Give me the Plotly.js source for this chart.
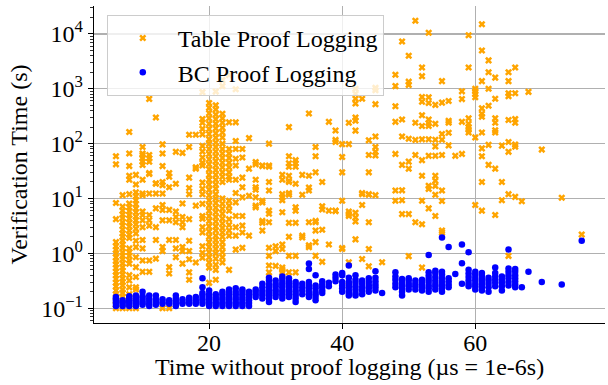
<!DOCTYPE html>
<html><head><meta charset="utf-8">
<script src="https://cdn.plot.ly/plotly-3.0.1.min.js"></script>
<style>html,body{margin:0;padding:0;background:#fff}</style>
</head><body><div id="chart" style="width:608px;height:385px"></div>
<script>
// Time without proof logging (µs) for each column of points
const tableXs = [6,7,8,9,10,11,12,13,14,15,16,17,18,19,20,21,22,23,24,25,26,27,28,29,30,31,32,33,34,35,36,37,38,39,40,41,42,43,44,45,46,48,49,50,51,52,53,54,55,56,57,58,59,60,61,62,63,64,65,66,67,68,70,73,76];
// Verification time (s) with table proof logging, one list per column
const tableYs = [
  [59,42,8.3,4.2,1.6,1.35,1.15,1.0,0.85,0.72,0.63,0.54,0.46,0.4,0.34,0.29,0.25,0.21,0.18,0.16,0.135,0.115,0.1],
  [11.5,7.1,6.0,5.1,4.4,3.7,3.2,2.7,2.3,2.0,1.7,1.45,1.25,1.05,0.9,0.78,0.66,0.56,0.48,0.41,0.35,0.3,0.26,0.22,0.19,0.16,0.14,0.12,0.1],
  [163,66,39,26,22,12,8.1,6.9,5.9,5.0,4.3,3.6,3.1,2.6,2.2,1.9,1.23,1.05,0.9,0.75,0.65,0.4,0.32,0.24,0.18,0.16,0.1],
  [27,18,13,11,9.3,7.9,6.6,5.6,4.7,4.0,3.4,2.8,2.3,1.7,1.3,0.85,0.56,0.37,0.24,0.22,0.1],
  [87,66,62,54,47,41,22,12.3,11.5,5.8,5.0,4.0,3.0,1.75,1.23,0.74,0.46],
  [655,62,54,47,29,28,12.3,5.0,4.0,3.2,0.74,0.46],
  [300,19,18.6,12.3,6.6,3.0,1.75,0.8],
  [97,66,39,20,17.4,12.3,7.6,6.2,4.0,1.3,1.1,0.1],
  [29,25,16,6.2,4.0,1.75,0.56,0.43,0.1],
  [71,18.6,5.8,4.6,3.7,1.75,1.23,0.85],
  [68,8.1,4.6,3.7,3.0,1.3,1.1,0.65],
  [145,87,24,15.5,12,4.2,1.7,1.1,0.78,0.45,0.33],
  [145,37,35,7.4,0.68],
  [870,282,240,186,148,91,72,56,45,40,19.5,15,12,8,4.8,4.3,3.0,2.4,1.35,1.02,0.83],
  [550,450,360,290,230,185,150,120,100,80,65,52,42,34,27,22,18,14.5,11.5,9.3,7.5,6.0,4.8,3.9,3.1,2.5,2.0,1.6,1.3,1.05,0.85,0.68,0.55,0.29],
  [890,500,420,340,280,230,190,155,128,105,87,72,59,48,40,33,27,22,18,15,12,10,8.3,6.8,5.6,4.6,3.8,3.1,2.6,2.1,1.75,1.45,1.2,1.0,0.8,0.62,0.5,0.33],
  [1440,1120,350,290,240,195,160,130,100,80,66,55,45,37,30,25,20,10,8,6.5,5.3,4.3,3.5,2.9,2.4,2.0,1.6,1.3,1.05,0.85,0.68],
  [1780,245,80,66,55,45,37,30,25,22,9.1,7.4,6.0,4.2,3.3,2.6,2.1,0.5],
  [980,245,112,80,53,40,22,12.6,8.5,4.8,3.0,2.1,1.17],
  [80,56,24,16,10.5,4.8,3.2,2.4,1.26],
  [126,35,11.2,2.1],
  [46,42,22,16,14.5,10.5,7.4,6.9],
  [40,39,9.1,8.5,3.9,3.6,2.6],
  [100,40,38,20,14,6.0,5.3,3.7,1.26,0.9,0.6,0.45],
  [1.35,1.1,0.59],
  [27,22,12,10.5,9.3,5.6,1.45,1.2,0.55,0.5,0.45],
  [200,59,44,38,26,21,20,12.6,11.7,3.6,2.0,0.9,0.45],
  [50,44,38,18.6,6.9,6.0,3.6,0.9,0.45],
  [27,11.7,2.1,1.95],
  [355,26,15.8,14,3.7,1.4,1.3],
  [87,59,30,3.9,3.7,2.6,1.6,0.9],
  [20,7.2,6.3,2.7,0.7],
  [250,6.0,1.45],
  [174,117,107,6.0,5.9],
  [98,57,30,9.1,1.25,1.2],
  [240,98,5.8,5.2,4.8,0.69,0.26],
  [1000,810,660,540,300,263,173,5.5,4.5,3.8,1.8],
  [660,12.6,12,7.6,0.79],
  [115,62,30,12,11.7,3.7,1.2,0.58],
  [1040,940,525,135,87,71,61,11.5],
  [0.69],
  [1800,1120,480,250,65,14,9.1],
  [7300,275,135,41,14.1,9.3,5.2],
  [4000,1350,1180,123,47,35,5.2,0.89],
  [17400,240,117,62,3.7],
  [2450,1700,710,580,330,210,120,50,26,9.1,3.4,0.55],
  [10500,700,550,275,235,210,120,60,17,15,6.6],
  [510,230,118,89,60,26,21,17,11.7,4.8],
  [1380,560,150,118,62,14,9.0,2.6,2.4],
  [600,260,240,158,93],
  [60],
  [900,650,250,65],
  [9500,2450,290,230,200,180,160],
  [1000,900,800,700,130,7.6],
  [15000,5000,1380,440,350,310,160,82,59,20,6.0],
  [3300,2000,1000,490,95,41],
  [1600,660,290,240,175,160,35,5.0],
  [92,20,9.3],
  [2000,1380,830,730,270,107,71,12,0.9],
  [2450,830,280,240,96,88,10.7],
  [8.9],
  [880],
  [78],
  [10.3],
  [2.2]
];
const bcXs = [6,7,8,9,10,11,12,13,14,15,16,17,18,19,20,21,22,23,24,25,26,27,28,29,30,31,32,33,34,35,36,37,38,39,40,41,42,43,44,45,46,48,49,50,51,52,53,54,55,56,57,58,59,60,61,62,63,64,65,66,67,68,70,73,76];
// Verification time (s) with BC proof logging, one list per column
const bcYs = [
  [0.11,0.12,0.13,0.14,0.15,0.16],
  [0.11,0.12,0.13,0.14],
  [0.11,0.12,0.13,0.14,0.15,0.165],
  [0.11,0.12,0.13,0.14,0.155,0.17],
  [0.115,0.125,0.135,0.15,0.165,0.2],
  [0.11,0.12,0.135,0.15,0.17],
  [0.115,0.13,0.145,0.17],
  [0.12,0.13,0.145],
  [0.12,0.13,0.14],
  [0.11,0.12,0.135,0.15,0.17],
  [0.12,0.13,0.145],
  [0.12,0.13,0.145,0.155],
  [0.12,0.13,0.14,0.16],
  [0.12,0.135,0.15,0.17,0.19,0.24,0.35],
  [0.11,0.12,0.13,0.145,0.16,0.18,0.21],
  [0.11,0.12,0.13,0.145,0.16,0.18],
  [0.11,0.12,0.13,0.145,0.16,0.18,0.2],
  [0.11,0.12,0.13,0.145,0.16,0.18,0.2,0.22],
  [0.11,0.12,0.13,0.145,0.16,0.18,0.2,0.23],
  [0.11,0.12,0.13,0.145,0.16,0.18,0.2,0.22],
  [0.11,0.125,0.14,0.16,0.18,0.2],
  [0.16,0.18,0.2,0.22],
  [0.15,0.17,0.19,0.21,0.24,0.28],
  [0.13,0.15,0.17,0.19,0.21,0.24,0.27,0.32,0.36],
  [0.16,0.18,0.2,0.22,0.25,0.28,0.32],
  [0.15,0.17,0.19,0.21,0.24,0.27,0.3,0.34,0.38],
  [0.16,0.18,0.2,0.22,0.25,0.28,0.31,0.35],
  [0.13,0.15,0.17,0.19,0.21,0.24,0.27,0.3],
  [0.18,0.21,0.24,0.28],
  [0.16,0.18,0.2,0.23,0.26,0.3,0.52,0.65],
  [0.14,0.16,0.18,0.2,0.23,0.26,0.4],
  [0.19,0.21,0.24,0.27,0.31],
  [0.25,0.29],
  [0.31,0.36,0.41],
  [0.2,0.23,0.26,0.3,0.4,0.44],
  [0.17,0.19,0.21,0.24,0.27,0.3,0.36,0.6],
  [0.17,0.19,0.22,0.25,0.29,0.33,0.4],
  [0.18,0.21,0.24,0.28,0.32],
  [0.2,0.23,0.26,0.3,0.35],
  [0.21,0.24,0.27,0.31,0.36,0.47],
  [0.19],
  [0.24,0.28,0.33,0.38,0.45],
  [0.17,0.2,0.23,0.26,0.3,0.34],
  [0.22,0.25,0.28,0.32,0.35],
  [0.22,0.25,0.28,0.32],
  [0.21,0.24,0.27,0.3,0.33],
  [0.2,0.23,0.26,0.3,0.34,0.39,0.45,0.93],
  [0.22,0.25,0.28,0.32,0.37,0.44,0.48],
  [0.2,0.23,0.26,0.3,0.35,0.41,0.46,1.95],
  [0.24,0.27,0.31,0.35,1.3],
  [0.42],
  [0.28,0.66,1.45],
  [0.25,0.28,0.32,0.37,0.43,0.5,1.05],
  [0.22,0.25,0.28,0.32,0.36,0.41,0.46],
  [0.21,0.24,0.27,0.3,0.34,0.39,0.44],
  [0.2,0.24,0.28,0.32,0.36],
  [0.25,0.29,0.33,0.38,0.44,0.55],
  [0.21,0.25,0.29,0.33,0.38],
  [0.26,0.3,0.35,0.4,0.46,0.53,1.18],
  [0.24,0.27,0.31,0.35,0.4,0.46,0.52],
  [0.24],
  [0.46],
  [0.3],
  [0.27],
  [1.7]
];
const seriesNames = ['Table Proof Logging', 'BC Proof Logging'];
const seriesColors = ['#ffa500', '#0000ff'];
const yTickVals = [0.1, 1, 10, 100, 1000, 10000];
const yTickText = ['10<sup>−1</sup>', '10<sup>0</sup>', '10<sup>1</sup>', '10<sup>2</sup>', '10<sup>3</sup>', '10<sup>4</sup>'];
const xTickVals = [20, 40, 60];
const xTitle = 'Time without proof logging (µs = 1e-6s)';
const yTitle = 'Verification Time (s)';

function flatten(xs, ys) {
  const X = [], Y = [];
  xs.forEach((x, i) => ys[i].forEach(v => { X.push(x); Y.push(v); }));
  return [X, Y];
}
const [tX, tY] = flatten(tableXs, tableYs);
const [bX, bY] = flatten(bcXs, bcYs);

const FONT = 'Times New Roman, Liberation Serif, DejaVu Serif, serif';
const FS = 24;
const traces = [
  {type: 'scatter', mode: 'markers', name: seriesNames[0], x: tX, y: tY, legendgroup: 'a',
   marker: {symbol: 'x', size: 6.3, color: seriesColors[0], line: {width: 0}}},
  {type: 'scatter', mode: 'markers', name: seriesNames[1], x: bX, y: bY, legendgroup: 'b',
   marker: {symbol: 'circle', size: 6.5, color: seriesColors[1], line: {width: 0}}}
];
const layout = {
  width: 608, height: 385,
  margin: {l: 94, r: 3, t: 6, b: 62},
  paper_bgcolor: '#fff', plot_bgcolor: '#fff',
  font: {family: FONT, size: FS, color: '#000'},
  showlegend: true,
  legend: {x: 0.025, y: 0.972, xanchor: 'left', yanchor: 'top',
    bgcolor: 'rgba(255,255,255,0.8)', bordercolor: '#cccccc', borderwidth: 1,
    font: {family: FONT, size: FS, color: '#000'}, itemwidth: 60, tracegroupgap: 1, traceorder: 'normal'},
  xaxis: {range: [2.7, 79.5], tickvals: xTickVals, ticks: 'outside', ticklen: 5, tickwidth: 1, tickcolor: '#000',
    showline: true, linecolor: '#000', linewidth: 1.2, showgrid: true, gridcolor: '#b0b0b0', gridwidth: 1.2,
    zeroline: false, tickfont: {family: FONT, size: FS}, ticklabelstandoff: -7},
  yaxis: {type: 'log', range: [-1.27, 4.51], tickvals: yTickVals, ticktext: yTickText, ticks: 'outside', ticklen: 5, tickwidth: 1, tickcolor: '#000',
    showline: true, linecolor: '#000', linewidth: 1.2, showgrid: true, gridcolor: '#b0b0b0', gridwidth: 1.2,
    zeroline: false, tickfont: {family: FONT, size: FS},
    minor: {ticks: 'outside', ticklen: 2.5, tickcolor: '#000', tickwidth: 0.8, dtick: 'D1', showgrid: false},
    title: {text: yTitle, font: {family: FONT, size: FS}, standoff: 6}},
  annotations: [
    {text: xTitle, xref: 'paper', yref: 'paper', x: 0.5, y: -0.139, xanchor: 'center', yanchor: 'middle',
     showarrow: false, borderpad: 0, font: {family: FONT, size: FS, color: '#000'}}
  ]
};
Plotly.newPlot('chart', traces, layout, {displayModeBar: false, staticPlot: true});
</script>
</body></html>
